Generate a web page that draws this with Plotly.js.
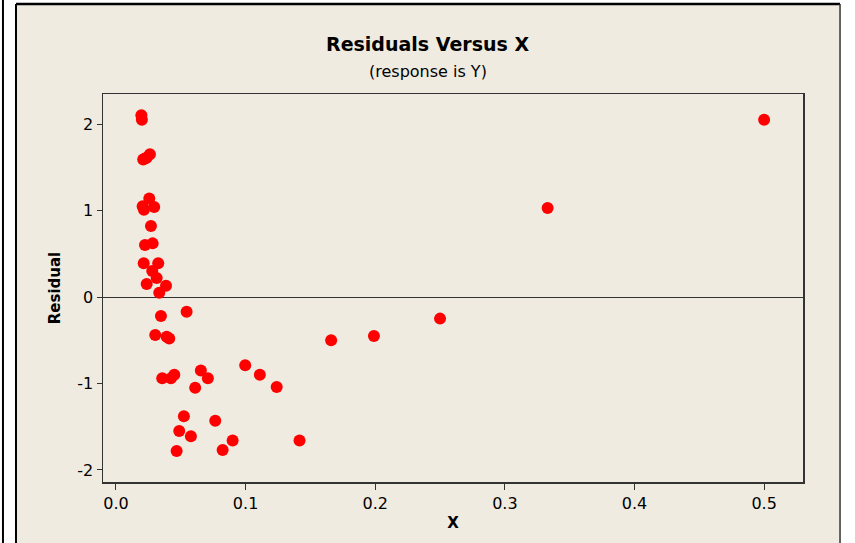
<!DOCTYPE html>
<html>
<head>
<meta charset="utf-8">
<script src="https://cdn.plot.ly/plotly-3.0.1.min.js"></script>
<style>
  html, body { margin: 0; padding: 0; background: #ffffff; }
  #chart { width: 855px; height: 543px; }
</style>
</head>
<body>
<div id="chart"></div>
<script>
// values
const xValues = [
    0.0196, 0.0200,
    0.0210, 0.0224, 0.0237, 0.0262,
    0.0206, 0.0216, 0.0257, 0.0295,
    0.0270,
    0.0224, 0.0283,
    0.0214, 0.0326,
    0.0280, 0.0314,
    0.0237, 0.0386,
    0.0334,
    0.0347, 0.0545,
    0.0303, 0.0391, 0.0411,
    0.0357, 0.0424, 0.0450,
    0.0655, 0.0709, 0.0611,
    0.0524, 0.0766, 0.0488, 0.0578, 0.0900, 0.1416, 0.0468, 0.0823,
    0.0997, 0.1110, 0.1240,
    0.1660, 0.1990, 0.2500, 0.3330, 0.5000
]
const residuals = [
    2.10, 2.05,
    1.59, 1.60, 1.61, 1.65,
    1.05, 1.01, 1.14, 1.04,
    0.82,
    0.60, 0.62,
    0.39, 0.39,
    0.30, 0.22,
    0.15, 0.13,
    0.05,
    -0.22, -0.17,
    -0.44, -0.46, -0.48,
    -0.94, -0.94, -0.90,
    -0.85, -0.94, -1.05,
    -1.38, -1.43, -1.55, -1.61, -1.66, -1.66, -1.78, -1.77,
    -0.79, -0.90, -1.04,
    -0.50, -0.45, -0.25, 1.03, 2.05
]
const xTicks = [0, 0.1, 0.2, 0.3, 0.4, 0.5]
const xTickLabels = ["0.0", "0.1", "0.2", "0.3", "0.4", "0.5"]
const yTicks = [-2, -1, 0, 1, 2]
const yTickLabels = ["-2", "-1", "0", "1", "2"]

const chartTitle = "Residuals Versus X"
const chartSubtitle = "(response is Y)"

const beige = "#efebe1"
const frameFont = "DejaVu Sans, Verdana, sans-serif"

const traces = [{
    x: xValues,
    y: residuals,
    mode: 'markers',
    type: 'scatter',
    marker: {
        size: 12,
        color: '#ff0000'
    },
    hoverinfo: 'skip',
    showlegend: false
}]

const layout = {
    width: 855,
    height: 543,
    margin: {l: 103, r: 52, t: 94, b: 61},
    paper_bgcolor: '#ffffff',
    plot_bgcolor: '#ffffff',
    font: {family: frameFont, color: '#000000', size: 16},
    showlegend: false,
    xaxis: {
        range: [-0.01, 0.53],
        tickvals: xTicks,
        ticktext: xTickLabels,
        ticks: 'outside',
        ticklen: 6,
        tickwidth: 1,
        tickcolor: '#333333',
        showgrid: false,
        zeroline: false,
        showline: true,
        mirror: true,
        linecolor: '#333333',
        linewidth: 1.5,
        tickfont: {size: 16},
        title: {text: '<b>X</b>', font: {size: 15}, standoff: 6}
    },
    yaxis: {
        range: [-2.139, 2.347],
        tickvals: yTicks,
        ticktext: yTickLabels,
        ticks: 'outside',
        ticklen: 5,
        tickwidth: 1,
        tickcolor: '#333333',
        showgrid: false,
        zeroline: true,
        zerolinecolor: '#333333',
        zerolinewidth: 1,
        showline: true,
        mirror: true,
        linecolor: '#333333',
        linewidth: 1.5,
        tickfont: {size: 16},
        title: {text: '<b>Residual</b>', font: {size: 15}, standoff: 13}
    },
    shapes: [
        // beige panel behind the plot
        {type: 'rect', xref: 'paper', yref: 'paper', layer: 'below',
         x0: -0.1229, x1: 1.0529, y0: -0.3, y1: 1.232,
         fillcolor: beige, line: {width: 0}},
        // outer frame lines
        {type: 'line', xref: 'paper', yref: 'paper',
         x0: -0.1429, x1: -0.1429, y0: -0.3, y1: 1.4,
         line: {color: '#000000', width: 2}},
        {type: 'line', xref: 'paper', yref: 'paper',
         x0: -0.1243, x1: -0.1243, y0: -0.3, y1: 1.232,
         line: {color: '#000000', width: 2}},
        {type: 'line', xref: 'paper', yref: 'paper',
         x0: -0.1243, x1: 1.0529, y0: 1.232, y1: 1.232,
         line: {color: '#000000', width: 2.5}},
        {type: 'line', xref: 'paper', yref: 'paper',
         x0: 1.0529, x1: 1.0529, y0: -0.3, y1: 1.232,
         line: {color: '#333333', width: 1.5}}
    ],
    annotations: [
        {text: '<b>' + chartTitle + '</b>', xref: 'paper', yref: 'paper',
         x: 0.4636, y: 1.129, xanchor: 'center', yanchor: 'middle',
         showarrow: false, font: {size: 19}},
        {text: chartSubtitle, xref: 'paper', yref: 'paper',
         x: 0.4636, y: 1.057, xanchor: 'center', yanchor: 'middle',
         showarrow: false, font: {size: 16}}
    ]
}

Plotly.newPlot('chart', traces, layout, {displayModeBar: false, staticPlot: true})
</script>
</body>
</html>
